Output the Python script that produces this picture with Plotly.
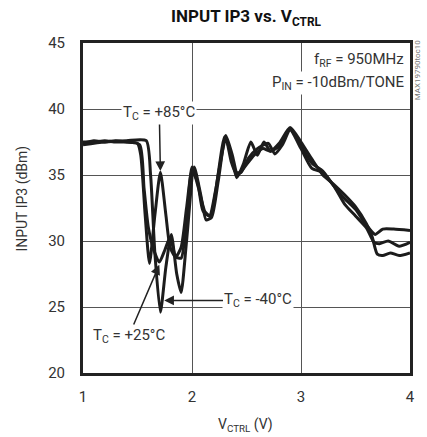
import plotly.graph_objects as go

# ---- data ----
v_85 = [1.0, 1.1, 1.2, 1.3, 1.4, 1.5, 1.53, 1.57, 1.61, 1.66, 1.71, 1.76, 1.8, 1.85, 1.9, 1.95, 2.0,
        2.05, 2.1, 2.16, 2.22, 2.3, 2.36, 2.41, 2.47, 2.54, 2.6, 2.66, 2.72, 2.8, 2.9, 3.0, 3.1, 3.2,
        3.27, 3.4, 3.5, 3.6, 3.68, 3.75, 3.85, 4.0]
ip3_85 = [37.4, 37.6, 37.5, 37.6, 37.5, 37.4, 36.5, 32.0, 28.3, 32.0, 35.2, 32.0, 29.5, 28.8, 29.5, 32.5, 35.3,
          34.5, 32.3, 31.9, 34.0, 37.9, 36.5, 34.8, 35.8, 37.5, 36.5, 37.5, 36.8, 37.2, 38.5, 37.2, 35.9, 35.3,
          34.5, 33.2, 32.4, 31.2, 30.5, 30.9, 30.9, 30.8]

v_25 = [1.0, 1.1, 1.2, 1.3, 1.4, 1.52, 1.56, 1.6, 1.65, 1.7, 1.75, 1.8, 1.85, 1.9, 1.95, 2.0,
        2.06, 2.12, 2.17, 2.24, 2.31, 2.36, 2.4, 2.45, 2.52, 2.6, 2.7, 2.76, 2.83, 2.9, 3.0, 3.1, 3.2,
        3.3, 3.4, 3.5, 3.6, 3.67, 3.72, 3.8, 3.9, 4.0]
ip3_25 = [37.5, 37.5, 37.6, 37.5, 37.5, 37.3, 34.0, 31.0, 29.3, 28.4, 29.3, 30.3, 28.8, 28.7, 31.5, 35.6,
          34.0, 32.2, 31.9, 35.0, 37.8, 36.0, 35.2, 35.2, 36.3, 37.0, 37.4, 36.6, 37.3, 38.4, 37.0, 35.5, 35.2,
          34.2, 32.8, 31.9, 31.0, 29.9, 29.8, 30.0, 29.6, 29.9]

v_m40 = [1.0, 1.2, 1.4, 1.58, 1.62, 1.66, 1.71, 1.76, 1.81, 1.86, 1.9, 1.95, 2.02, 2.08, 2.13, 2.18,
         2.24, 2.31, 2.37, 2.42, 2.5, 2.57, 2.65, 2.72, 2.8, 2.9, 3.0, 3.1, 3.2, 3.3, 3.4, 3.5, 3.6,
         3.65, 3.7, 3.75, 3.82, 3.9, 4.0]
ip3_m40 = [37.3, 37.5, 37.6, 37.6, 35.0, 29.0, 24.6, 28.0, 30.5, 27.5, 26.1, 30.0, 35.6, 33.5, 31.6, 31.8,
           34.5, 38.0, 36.5, 35.0, 35.8, 36.5, 37.0, 36.8, 37.4, 38.6, 37.5, 36.2, 35.0, 34.3, 33.5, 32.6, 31.3,
           30.4, 29.0, 28.9, 29.1, 28.9, 29.1]

x_ticks = [1, 2, 3, 4]
y_ticks = [20, 25, 30, 35, 40, 45]

FONT = "Roboto, Liberation Sans, sans-serif"
LINE = "#1c1c1c"

fig = go.Figure()
for vx, vy, name in [(v_85, ip3_85, "+85°C"), (v_25, ip3_25, "+25°C"), (v_m40, ip3_m40, "-40°C")]:
    fig.add_trace(go.Scatter(x=vx, y=vy, mode="lines", name=name,
                             line=dict(color=LINE, width=3, shape="spline", smoothing=0.6),
                             showlegend=False, hoverinfo="skip"))

ann_font = dict(family=FONT, size=15, color="#333")
annotations = [
    dict(text="T<sub>C</sub> = +85°C", x=1.71, y=35.3, ax=1.70, ay=39.7, axref="x", ayref="y",
         xref="x", yref="y", showarrow=True, arrowhead=2, arrowsize=1.3, arrowwidth=1.5,
         arrowcolor="#222", standoff=0, bgcolor="white", font=ann_font),
    dict(text="T<sub>C</sub> = +25°C", x=1.70, y=28.2, ax=1.42, ay=22.8, axref="x", ayref="y",
         xref="x", yref="y", showarrow=True, arrowhead=2, arrowsize=1.3, arrowwidth=1.5,
         arrowcolor="#222", standoff=0, bgcolor="white", font=ann_font),
    dict(text="T<sub>C</sub> = -40°C", x=1.745, y=25.5, ax=2.61, ay=25.5, axref="x", ayref="y",
         xref="x", yref="y", showarrow=True, arrowhead=2, arrowsize=1.3, arrowwidth=1.5,
         arrowcolor="#222", standoff=0, bgcolor="white", font=ann_font),
    dict(text="f<sub>RF</sub> = 950MHz", xref="paper", yref="paper",
         x=0.988, y=0.948, xanchor="right", yanchor="middle", align="right", showarrow=False,
         bgcolor="white", font=ann_font),
    dict(text="P<sub>IN</sub> = -10dBm/TONE", xref="paper", yref="paper",
         x=0.988, y=0.879, xanchor="right", yanchor="middle", align="right", showarrow=False,
         bgcolor="white", font=ann_font),
    dict(text="MAX19790toc10", xref="paper", yref="paper", x=1.024, y=0.92, textangle=-90,
         showarrow=False, font=dict(family=FONT, size=8, color="#777"), xanchor="center", yanchor="middle"),
    dict(text="<b>INPUT IP3 vs. V<sub>CTRL</sub></b>", xref="paper", yref="paper", x=0.5, y=1.076,
         showarrow=False, font=dict(family=FONT, size=17, color="#111"), xanchor="center", yanchor="middle"),
    dict(text="INPUT IP3 (dBm)", xref="paper", yref="paper", x=-0.185, y=0.527, textangle=-90,
         showarrow=False, font=dict(family=FONT, size=14, color="#333"), xanchor="center", yanchor="middle"),
    dict(text="V<sub>CTRL</sub> (V)", xref="paper", yref="paper", x=0.497, y=-0.158,
         showarrow=False, font=dict(family=FONT, size=14, color="#333"), xanchor="center", yanchor="middle"),
]

fig.update_layout(
    width=427, height=437,
    margin=dict(l=83, r=14, t=43, b=64),
    paper_bgcolor="white", plot_bgcolor="white",
    annotations=annotations,
    font=dict(family=FONT, color="#333"),
)
fig.update_xaxes(range=[1, 4], tickvals=x_ticks, ticks="", showgrid=True, gridcolor="#555", gridwidth=1.3,
                 zeroline=False, showline=True, mirror=True, linecolor="#222", linewidth=3,
                 ticklabelstandoff=8,
                 tickfont=dict(family=FONT, size=15, color="#333"))
fig.update_yaxes(range=[20, 45], tickvals=y_ticks, ticks="", showgrid=True, gridcolor="#555", gridwidth=1.3,
                 zeroline=False, showline=True, mirror=True, linecolor="#222", linewidth=3,
                 ticklabelstandoff=12,
                 tickfont=dict(family=FONT, size=15, color="#333"))

fig.write_html("out.html", config={"displayModeBar": False},
               post_script="document.body.style.margin='0';document.body.style.overflow='hidden';")
